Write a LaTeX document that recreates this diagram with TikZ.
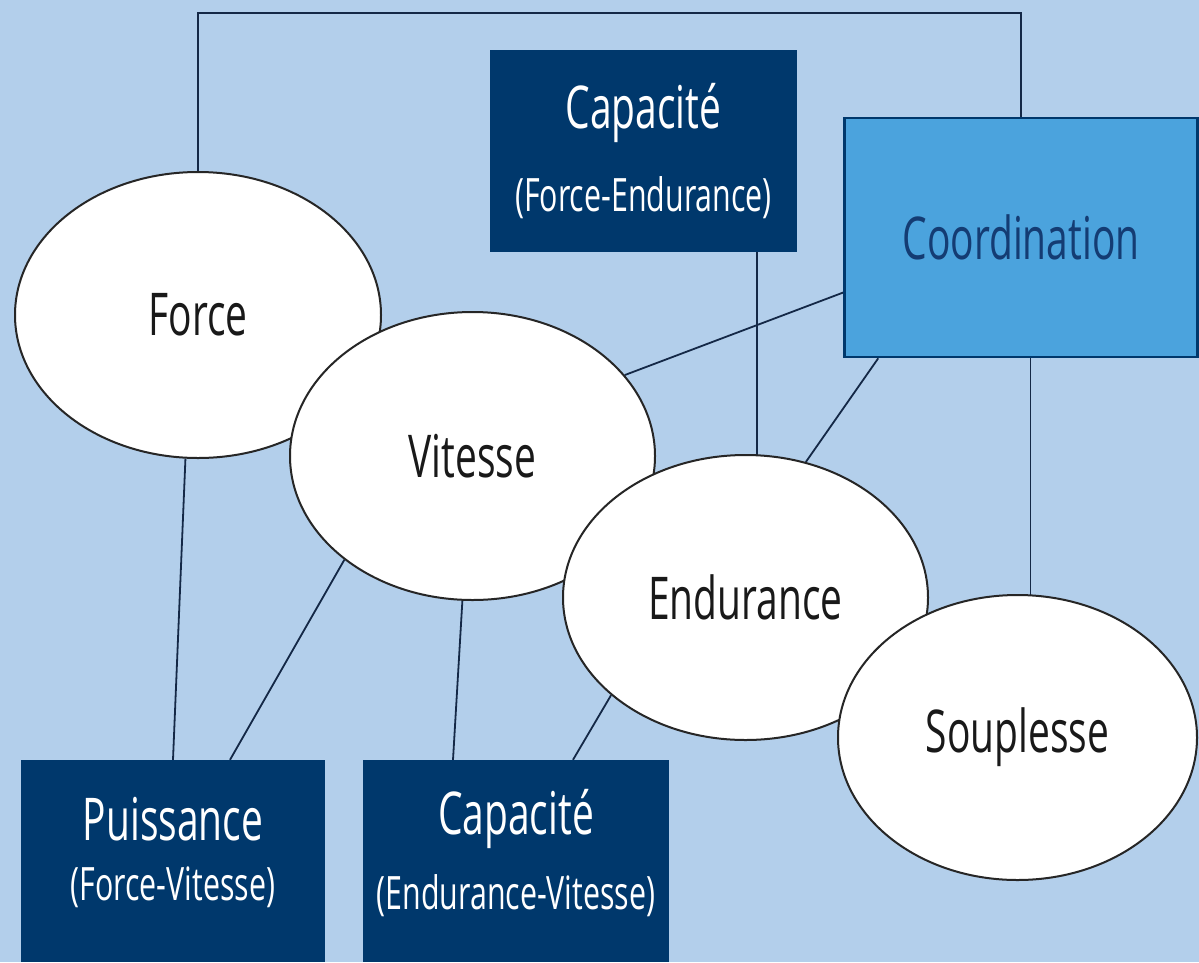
\documentclass[tikz,border=0pt]{standalone}
\usepackage{fontspec}
\setmainfont{Open Sans}[FakeStretch=0.66]
\usetikzlibrary{shapes.geometric,calc}
\pgfdeclarelayer{bg}
\pgfdeclarelayer{wires}
\pgfsetlayers{bg,wires,main}
\definecolor{bgblue}{RGB}{179,207,235}
\definecolor{navy}{RGB}{0,56,108}
\definecolor{coordblue}{RGB}{75,163,221}
\definecolor{coordtext}{RGB}{20,60,115}
\definecolor{wirecol}{RGB}{20,40,70}
\newcommand{\bigtxt}{\fontsize{59}{66}\selectfont}
\newcommand{\smalltxt}{\fontsize{46}{66}\selectfont}
\begin{document}
\begin{tikzpicture}[x=1pt,y=-1pt,
  oval/.style={ellipse, draw=black!85, line width=2pt, fill=white, inner sep=0pt, font=\bigtxt, text=black!90},
  navybox/.style={rectangle, fill=navy, draw=none, inner sep=0pt, text=white, align=center},
  coordbox/.style={rectangle, fill=coordblue, draw=navy, line width=2.5pt, inner sep=0pt, text=coordtext, font=\bigtxt},
  wire/.style={draw=wirecol, line width=1.8pt}]
\useasboundingbox (0,0) rectangle (1199,962);
\clip (0,0) rectangle (1199,962);
\begin{pgfonlayer}{bg}
\fill[bgblue] (0,0) rectangle (1199,962);
\end{pgfonlayer}

% boxes
\node[navybox, minimum width=307pt, minimum height=202pt] (cap1) at (643.5,151)
  {\bigtxt Capacité\\[33pt]\smalltxt (Force-Endurance)};
\node[coordbox, minimum width=353pt, minimum height=239pt] (coord) at (1021,237.5) {Coordination};
\node[navybox, minimum width=304pt, minimum height=202pt] (puiss) at (173,861)
  {\bigtxt Puissance\\[25pt]\smalltxt (Force-Vitesse)\rule[-24pt]{0pt}{0pt}};
\node[navybox, minimum width=306pt, minimum height=202pt] (cap2) at (516,861)
  {\bigtxt Capacité\\[25pt]\smalltxt (Endurance-Vitesse)\rule[-24pt]{0pt}{0pt}};

% ellipses
\node[oval, minimum width=366pt, minimum height=286pt] (force) at (198,315) {Force};
\node[oval, minimum width=365pt, minimum height=288pt] (vit) at (472.5,456) {Vitesse};
\node[oval, minimum width=365pt, minimum height=285pt] (endu) at (745.5,597.5) {Endurance};
\node[oval, minimum width=359pt, minimum height=285pt] (soup) at (1017.5,737.5) {Souplesse};

% connectors
\begin{pgfonlayer}{wires}
\draw[wire] (force.north) -- (force.north |- 0,13) -| (coord.north);
\draw[wire] ($(cap1.south west)+(0,-42)$) -- ($(cap1.south west)+(0,-42)$ -| force.center);
\draw[wire] ([xshift=113.5pt]cap1.south) -- ([xshift=113.5pt]cap1.south |- endu.center);
\draw[wire] ([yshift=-55pt]coord.west) -- (vit.28);
\draw[wire] ([xshift=35pt]coord.south west) -- (endu.66);
\draw[wire] ([xshift=9.5pt]coord.south) -- ([xshift=9.5pt]coord.south |- soup.center);
\draw[wire] (force.265) -- (puiss.north);
\draw[wire] (vit.219) -- ([xshift=57pt]puiss.north);
\draw[wire] (vit.266) -- ([xshift=-63pt]cap2.north);
\draw[wire] (endu.216) -- ([xshift=57pt]cap2.north);
\end{pgfonlayer}
\end{tikzpicture}
\end{document}
